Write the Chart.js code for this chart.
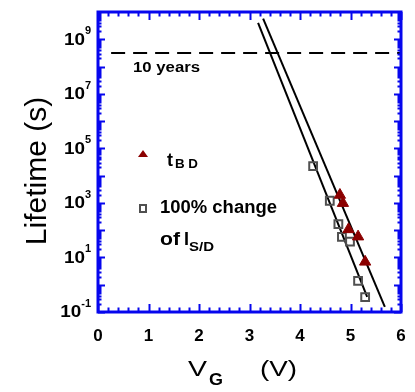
<!DOCTYPE html>
<html lang="en">
<head>
<meta charset="utf-8" />
<title>Lifetime vs gate voltage</title>
<style>
  * { margin: 0; padding: 0; }
  body { background: #fff; }
  .chartBox { width: 415px; height: 392px; }
</style>
</head>
<body>
<div class="chartBox"><canvas id="myChart"></canvas></div>

<script src="https://cdn.jsdelivr.net/npm/chart.js@4.4.1/dist/chart.umd.min.js"></script>
<script>
// breakdown time t_BD (triangles)
const tbdVg = [4.79, 4.85, 4.96, 5.15, 5.29];
const tbdLife = [1950, 980, 107, 58, 6.9];

// 100% change of I_S/D (open squares)
const isdVg = [4.26, 4.59, 4.76, 4.83, 4.99, 5.15, 5.29];
const isdLife = [22400, 1200, 166, 57, 38, 1.38, 0.35];

// extrapolation lines
const fitIsdVg = [3.17, 5.33];
const fitIsdLife = [3.98e9, 0.355];
const fitTbdVg = [3.27, 5.68];
const fitTbdLife = [5.75e9, 0.155];

// 10 years reference
const tenYearsVg = [0.26, 6];
const tenYearsLife = [3.15e8, 3.15e8];

const xTicks = [0, 1, 2, 3, 4, 5, 6];
const yTickExps = [-1, 1, 3, 5, 7, 9];

const pts = (xs, ys) => xs.map((x, i) => ({ x: x, y: ys[i] }));

const BLUE = "#0606ee";
const FONT = "'Liberation Sans', Arial, sans-serif";

// draw text squeezed/stretched to a given width
function fitText(ctx, str, x, y, font, width) {
  ctx.save();
  ctx.font = font;
  const w = ctx.measureText(str).width;
  ctx.translate(x, y);
  if (width) ctx.scale(width / w, 1);
  ctx.fillText(str, 0, 0);
  ctx.restore();
}

const frameAndText = {
  id: "frameAndText",
  afterDatasetsDraw(chart) {
    const { ctx, chartArea: { top, bottom, left, right }, scales: { x, y } } = chart;
    ctx.save();

    // ticks
    ctx.strokeStyle = BLUE;
    ctx.lineWidth = 2;
    ctx.beginPath();
    for (let i = 0; i <= 30; i++) {
      const v = i / 5;
      const px = Math.round(x.getPixelForValue(v)) + 0.5;
      const len = i % 5 === 0 ? 8 : 4.5;
      ctx.moveTo(px, bottom); ctx.lineTo(px, bottom - len);
      ctx.moveTo(px, top); ctx.lineTo(px, top + len);
    }
    for (let e = -1; e <= 9; e++) {
      for (let m = 1; m <= 9; m++) {
        const v = m * Math.pow(10, e);
        const py = Math.round(y.getPixelForValue(v)) + 0.5;
        const len = m === 1 ? 7 : 3.5;
        ctx.moveTo(left, py); ctx.lineTo(left + len, py);
        ctx.moveTo(right, py); ctx.lineTo(right - len, py);
      }
    }
    ctx.stroke();

    // frame
    ctx.lineWidth = 3;
    ctx.strokeRect(left, top, right - left, bottom - top);

    ctx.fillStyle = "#000";
    ctx.textBaseline = "middle";

    // x tick labels
    ctx.textAlign = "center";
    ctx.font = "bold 17px " + FONT;
    xTicks.forEach(v => ctx.fillText(String(v), x.getPixelForValue(v), 336));

    // y tick labels 10^n
    ctx.textAlign = "left";
    yTickExps.forEach(e => {
      const py = y.getPixelForValue(Math.pow(10, e));
      const w10 = 21;
      ctx.font = "bold 11px " + FONT;
      const wExp = ctx.measureText(String(e)).width;
      const x0 = left - 7 - w10 - wExp;
      fitText(ctx, "10", x0, py + 1, "bold 16px " + FONT, w10);
      ctx.font = "bold 11px " + FONT;
      ctx.fillText(String(e), x0 + w10, py - 8);
    });

    // axis titles
    ctx.textBaseline = "alphabetic";
    ctx.save();
    ctx.translate(46, 171);
    ctx.rotate(-Math.PI / 2);
    ctx.textAlign = "center";
    ctx.font = "30px " + FONT;
    ctx.fillText("Lifetime (s)", 0, 0);
    ctx.restore();

    ctx.textAlign = "left";
    fitText(ctx, "V", 188, 376, "22px " + FONT, 19);
    fitText(ctx, "G", 209, 385, "bold 17px " + FONT, 14);
    fitText(ctx, "(V)", 260, 376, "22px " + FONT, 37);

    // annotation
    fitText(ctx, "10 years", 133, 72, "bold 14px " + FONT, 67);

    // legend
    const lx = left + 45;
    ctx.fillStyle = "#8b0000";
    ctx.beginPath();
    ctx.moveTo(lx, 150); ctx.lineTo(lx + 5, 157); ctx.lineTo(lx - 5, 157);
    ctx.closePath();
    ctx.fill();
    ctx.strokeStyle = "#505050";
    ctx.lineWidth = 2;
    ctx.strokeRect(lx - 3, 205, 6, 7);

    ctx.fillStyle = "#000";
    fitText(ctx, "t", 167, 166, "bold 18px " + FONT);
    fitText(ctx, "B D", 175, 168, "bold 12px " + FONT, 23);
    fitText(ctx, "100% change", 160, 213, "bold 18px " + FONT, 117);
    fitText(ctx, "of", 160, 245, "bold 18px " + FONT, 20);
    fitText(ctx, "I", 184, 245, "bold 18px " + FONT);
    fitText(ctx, "S/D", 189, 251, "bold 13px " + FONT, 25);

    ctx.restore();
  },
};

const data = {
  datasets: [
    {
      label: "10 years",
      data: pts(tenYearsVg, tenYearsLife),
      showLine: true,
      borderColor: "#000",
      borderWidth: 2,
      borderDash: [14, 8],
      pointRadius: 0,
    },
    {
      label: "t_BD",
      data: pts(tbdVg, tbdLife),
      pointStyle: "triangle",
      pointRadius: 6.5,
      backgroundColor: "#8b0000",
      borderColor: "#8b0000",
      borderWidth: 1,
    },
    {
      label: "100% change of I_S/D",
      data: pts(isdVg, isdLife),
      pointStyle: "rect",
      pointRadius: 5.5,
      backgroundColor: "rgba(0,0,0,0)",
      borderColor: "#505050",
      borderWidth: 2,
    },
    {
      label: "fit I_S/D",
      data: pts(fitIsdVg, fitIsdLife),
      showLine: true,
      borderColor: "#000",
      borderWidth: 2,
      pointRadius: 0,
    },
    {
      label: "fit t_BD",
      data: pts(fitTbdVg, fitTbdLife),
      showLine: true,
      borderColor: "#000",
      borderWidth: 2,
      pointRadius: 0,
    },
  ],
};

const config = {
  type: "scatter",
  data: data,
  options: {
    responsive: false,
    animation: false,
    layout: { padding: { left: 98, top: 12, right: 14, bottom: 80 } },
    scales: {
      x: { type: "linear", min: 0, max: 6, display: false },
      y: { type: "logarithmic", min: 0.1, max: 1e10, display: false },
    },
    plugins: {
      legend: { display: false },
      tooltip: { enabled: false },
    },
  },
  plugins: [frameAndText],
};

const canvas = document.getElementById("myChart");
canvas.width = 415;
canvas.height = 392;
const myChart = new Chart(canvas, config);
</script>
</body>
</html>
